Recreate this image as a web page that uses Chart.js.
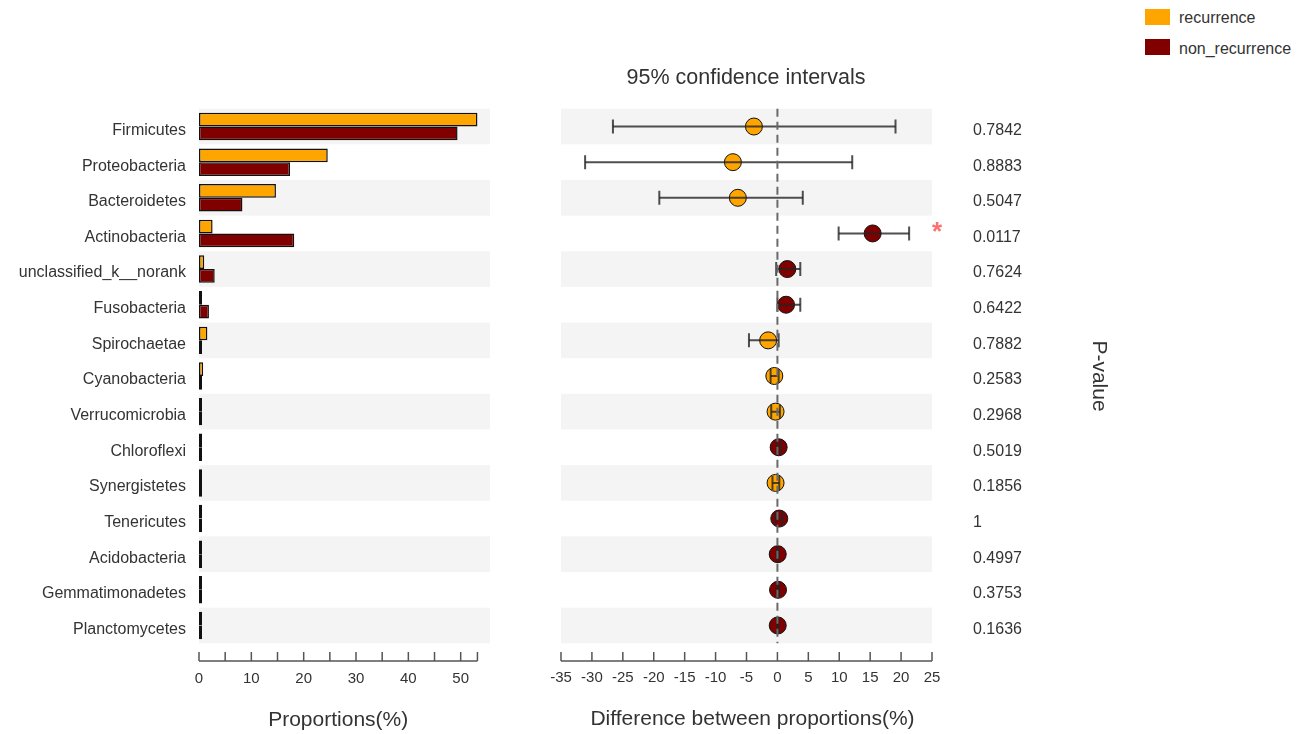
<!DOCTYPE html>
<html><head><meta charset="utf-8">
<script src="https://cdn.jsdelivr.net/npm/chart.js@4"></script>
<style>
html,body{margin:0;padding:0;background:#fff;width:1311px;height:734px;overflow:hidden;font-family:"Liberation Sans",Arial,sans-serif;color:#333}
.box{position:absolute;top:0;height:734px}
#leftBox{left:0;width:500px}
#rightBox{left:500px;width:615px}
.sw{position:absolute;width:25px;height:16px}
.lt{position:absolute;font-size:16px;line-height:20px;color:#333}
#title{position:absolute;left:546px;width:400px;top:64px;text-align:center;font-size:21.5px;line-height:26px;color:#333}
</style></head><body>
<div id="leftBox" class="box"><canvas id="c1"></canvas></div>
<div id="rightBox" class="box"><canvas id="c2"></canvas></div>
<div id="title">95% confidence intervals</div>
<div class="sw" style="left:1145px;top:9px;background:#FFA500"></div>
<div class="lt" style="left:1179px;top:8px">recurrence</div>
<div class="sw" style="left:1145px;top:39px;background:#800000"></div>
<div class="lt" style="left:1179px;top:39px">non_recurrence</div>
<script>
const categories = ['Firmicutes','Proteobacteria','Bacteroidetes','Actinobacteria','unclassified_k__norank','Fusobacteria','Spirochaetae','Cyanobacteria','Verrucomicrobia','Chloroflexi','Synergistetes','Tenericutes','Acidobacteria','Gemmatimonadetes','Planctomycetes'];
const seriesNames = ['recurrence','non_recurrence'];
const recurrence = [53.2,24.6,14.7,2.6,1.0,0.1,1.6,0.8,0.45,0.25,0.3,0.15,0.15,0.1,0.05];
const nonRecurrence = [49.4,17.4,8.3,18.2,3.0,1.9,0.1,0.2,0.3,0.35,0.2,0.35,0.2,0.15,0.1];
const diffMean = [-3.8,-7.2,-6.4,15.4,1.6,1.4,-1.5,-0.5,-0.3,0.2,-0.3,0.3,0.05,0.1,0.05];
const ciLow = [-26.6,-31.1,-19.1,9.9,-0.2,0.0,-4.6,-1.1,-1.0,-0.1,-0.8,-0.3,-0.1,-0.1,-0.05];
const ciHigh = [19.1,12.1,4.1,21.3,3.7,3.7,0.2,0.2,0.4,0.5,0.3,0.8,0.2,0.3,0.15];
const pValues = ['0.7842','0.8883','0.5047','0.0117','0.7624','0.6422','0.7882','0.2583','0.2968','0.5019','0.1856','1','0.4997','0.3753','0.1636'];
const propTicks = [0,5,10,15,20,25,30,35,40,45,50];
const propTickLabels = ['0','','10','','20','','30','','40','','50'];
const diffTicks = [-35,-30,-25,-20,-15,-10,-5,0,5,10,15,20,25];
const diffTickLabels = ['-35','-30','-25','-20','-15','-10','-5','0','5','10','15','20','25'];

const COL_REC = '#FFA500', COL_NON = '#800000';
const FONT = '"Liberation Sans", Arial, sans-serif';
const TXT = '#333';
Chart.defaults.animation = false;
Chart.defaults.font.family = FONT;
Chart.defaults.color = TXT;

const bandPlugin = {
  id: 'bands',
  beforeDatasetsDraw(chart) {
    const ctx = chart.ctx, ys = chart.scales.y, a = chart.chartArea;
    const h = (ys.getPixelForValue(1) - ys.getPixelForValue(0));
    ctx.save(); ctx.fillStyle = '#F4F4F4';
    categories.forEach((c, i) => {
      if (i % 2 === 0) {
        const y = ys.getPixelForValue(i);
        ctx.fillRect(a.left, y - h / 2, a.right - a.left, h);
      }
    });
    ctx.restore();
  }
};

function bottomAxis(cfg) {
  return {
    id: 'bottomAxis',
    afterDraw(chart) {
      const ctx = chart.ctx, xs = chart.scales.x;
      const x0 = xs.getPixelForValue(cfg.start), x1 = xs.getPixelForValue(cfg.end);
      ctx.save();
      ctx.strokeStyle = '#555'; ctx.lineWidth = 1.5;
      ctx.beginPath();
      ctx.moveTo(x0, cfg.axisY); ctx.lineTo(x1, cfg.axisY);
      cfg.ticks.concat(cfg.extra || []).forEach(v => {
        const x = xs.getPixelForValue(v);
        ctx.moveTo(x, cfg.axisY); ctx.lineTo(x, cfg.axisY - 9);
      });
      ctx.stroke();
      ctx.fillStyle = TXT; ctx.textAlign = 'center'; ctx.textBaseline = 'middle';
      ctx.font = '15px ' + FONT;
      cfg.ticks.forEach((v, i) => {
        if (cfg.labels[i]) ctx.fillText(cfg.labels[i], xs.getPixelForValue(v), cfg.labelY);
      });
      ctx.font = '21px ' + FONT;
      ctx.fillText(cfg.title, (x0 + x1) / 2 + (cfg.titleDx || 0), cfg.titleY);
      ctx.restore();
    }
  };
}

const propMax = Math.max(...recurrence, ...nonRecurrence);

new Chart(document.getElementById('c1'), {
  type: 'bar',
  data: {
    labels: categories,
    datasets: [
      {label: seriesNames[0], data: recurrence, backgroundColor: COL_REC},
      {label: seriesNames[1], data: nonRecurrence, backgroundColor: COL_NON}
    ]
  },
  options: {
    indexAxis: 'y', responsive: true, maintainAspectRatio: false,
    layout: {padding: {top: 108.7, bottom: 90.7, right: 10, left: 0}},
    datasets: {bar: {categoryPercentage: 0.77, barPercentage: 1, borderWidth: 1.5, borderColor: '#111', borderSkipped: false, minBarLength: 3}},
    plugins: {legend: {display: false}, tooltip: {enabled: false}},
    scales: {
      x: {type: 'linear', min: 0, max: 55.6, display: false},
      y: {
        type: 'category', position: 'left', offset: true,
        grid: {display: false, drawTicks: false}, border: {display: false},
        ticks: {autoSkip: false, padding: 13, labelOffset: 4, font: {size: 16}, color: TXT},
        afterFit(s) { s.width = 199; }
      }
    }
  },
  plugins: [bandPlugin, bottomAxis({start: 0, end: propMax, ticks: propTicks, labels: propTickLabels, extra: [propMax], axisY: 661, labelY: 679, title: 'Proportions(%)', titleY: 720})]
});

const ciPlugin = {
  id: 'ciExtras',
  afterDatasetsDraw(chart) {
    const ctx = chart.ctx, xs = chart.scales.x, ys = chart.scales.y, a = chart.chartArea;
    const x0 = xs.getPixelForValue(0);
    ctx.save();
    ctx.strokeStyle = '#6a6a6a'; ctx.lineWidth = 2; ctx.setLineDash([8, 5]);
    ctx.beginPath(); ctx.moveTo(x0, a.top); ctx.lineTo(x0, a.bottom); ctx.stroke();
    ctx.setLineDash([]);
    ctx.fillStyle = '#FF6F6F'; ctx.font = 'bold 26px ' + FONT; ctx.textAlign = 'left'; ctx.textBaseline = 'middle';
    pValues.forEach((p, i) => {
      if (parseFloat(p) < 0.05) ctx.fillText('*', a.right + 0, ys.getPixelForValue(i) - 1);
    });
    ctx.restore();
  }
};

const pointColors = diffMean.map(d => d >= 0 ? COL_NON : COL_REC);
const errDatasets = categories.map((c, i) => ({
  type: 'line', data: [{x: ciLow[i], y: c}, {x: ciHigh[i], y: c}],
  borderColor: 'rgba(35,35,35,0.8)', borderWidth: 2,
  pointStyle: 'line', pointRotation: 90, pointRadius: 7, pointBorderWidth: 2,
  pointBorderColor: 'rgba(35,35,35,0.8)', order: 0
}));

new Chart(document.getElementById('c2'), {
  type: 'line',
  data: {
    labels: categories,
    datasets: [{
      data: categories.map((c, i) => ({x: diffMean[i], y: c})),
      showLine: false, pointRadius: 8.5, pointBackgroundColor: pointColors,
      pointBorderColor: '#111', pointBorderWidth: 1, order: 1
    }].concat(errDatasets)
  },
  options: {
    responsive: true, maintainAspectRatio: false,
    layout: {padding: {top: 108.7, bottom: 90.7, left: 61, right: 0}},
    plugins: {legend: {display: false}, tooltip: {enabled: false}},
    scales: {
      x: {type: 'linear', min: -35, max: 25, display: false},
      y: {type: 'category', offset: true, display: false},
      y2: {
        type: 'category', position: 'right', offset: true,
        grid: {display: false, drawTicks: false}, border: {display: false},
        ticks: {autoSkip: false, padding: 41, labelOffset: 4, font: {size: 16}, color: TXT,
          callback: (v, i) => pValues[i]},
        title: {display: true, text: 'P-value', font: {size: 21}, color: TXT},
        afterFit(s) { s.width = 183; }
      }
    }
  },
  plugins: [bandPlugin, ciPlugin, bottomAxis({start: -35, end: 25, ticks: diffTicks, labels: diffTickLabels, axisY: 661, labelY: 678, title: 'Difference between proportions(%)', titleY: 719, titleDx: 6})]
});
</script>
</body></html>
